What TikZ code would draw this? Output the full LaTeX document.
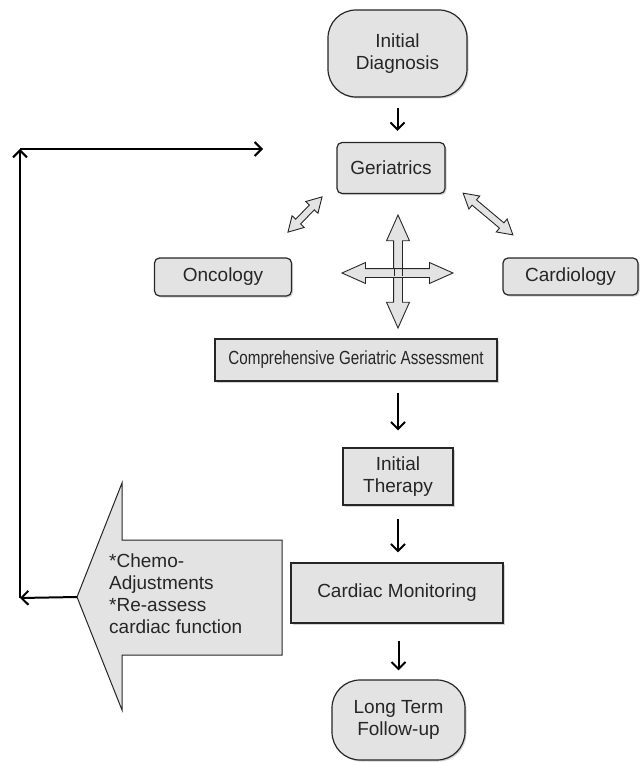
\documentclass[tikz,border=0pt]{standalone}
\usepackage{fontspec}
\setmainfont{Liberation Sans}
\usetikzlibrary{arrows.meta,shapes.arrows,shadows}

\begin{document}
\begin{tikzpicture}[x=1pt,y=-1pt]
\tikzstyle{every node}=[font=\fontsize{19}{22}\selectfont,text=black!85]
\tikzstyle{box}=[draw=black!85,line width=1.2pt,fill=gray!22,align=center,inner sep=0pt,drop shadow={shadow xshift=1.5pt,shadow yshift=-1.5pt,opacity=0.35}]
\tikzstyle{rbox}=[box,rounded corners=5pt]
\tikzstyle{term}=[box,rounded corners=28pt]
\tikzstyle{flow}=[draw,line width=2pt,-{Straight Barb[length=7pt,width=14pt]}]
\tikzstyle{blockarr}=[double arrow,draw=black!85,line width=0.9pt,fill=gray!22,inner sep=3pt,double arrow head extend=5pt,double arrow tip angle=60]
\tikzstyle{bigarr}=[draw=black!85,line width=1pt,fill=gray!22]

\useasboundingbox (0,0) rectangle (643,762);

% main column
\node[term,minimum width=139pt,minimum height=87pt] (diag) at (397.5,53.5) {Initial\\Diagnosis};
\node[rbox,minimum width=108pt,minimum height=51pt] (ger) at (391,168) {Geriatrics};
\node[rbox,minimum width=137pt,minimum height=38pt] (onc) at (223,277) {Oncology};
\node[rbox,minimum width=135pt,minimum height=37pt] (card) at (570.5,276.5) {Cardiology};
\node[box,minimum width=282pt,minimum height=42pt] (cga) at (356,360) {\scalebox{0.8}[1]{Comprehensive Geriatric Assessment}};
\node[box,minimum width=110pt,minimum height=57pt] (ther) at (398,476.5) {Initial\\Therapy};
\node[box,minimum width=212pt,minimum height=60pt] (mon) at (397,593) {Cardiac Monitoring};
\node[term,minimum width=133pt,minimum height=80pt] (foll) at (398.5,720) {Long Term\\Follow-up};

% block arrows
\node[blockarr,rotate=46,minimum height=49pt] (ogdbl) at (305,214.5) {};
\node[blockarr,rotate=-40,minimum height=65pt] (cgdbl) at (488,214) {};
\node[blockarr,inner sep=4pt,double arrow head extend=7pt,double arrow tip angle=48,rotate=90,minimum height=113pt] (crossv) at (398,271.5) {};
\node[blockarr,inner sep=4pt,double arrow head extend=6pt,double arrow tip angle=48,minimum height=111pt] (crossh) at (397.5,273) {};
\draw[draw=black!85,line width=0.9pt] (crossv.center) ++(-4,-4) -- ++(0,8) (crossv.center) ++(4,-4) -- ++(0,8);

% feedback arrow
\draw[bigarr] (77,597) coordinate (tip) -- (122,483) -- (122,540) -- (282,540) -- (282,655) -- (122,655) -- (122,710) -- cycle;
\node[anchor=west,align=left,inner sep=0pt] (adj) at (109,594) {*Chemo-\\Adjustments\\*Re-assess\\cardiac function};

\coordinate (fbl) at (20,598);
\coordinate (fbt) at (20,149);
\coordinate (fbe) at (263,149);
\draw[flow] (tip) -- (fbl);
\draw[flow] (fbl) -- (fbt);
\draw[flow] (fbt) -- (fbe);

% flow
\draw[flow,shorten <=10pt,shorten >=11pt] (diag) -- (diag |- ger.north);
\draw[flow,shorten <=11pt,shorten >=17pt] (ther |- cga.south) -- (ther);
\draw[flow,shorten <=13pt,shorten >=10pt] (ther) -- (ther |- mon.north);
\draw[flow,shorten <=17pt,shorten >=9pt] (foll |- mon.south) -- (foll);
\end{tikzpicture}
\end{document}
